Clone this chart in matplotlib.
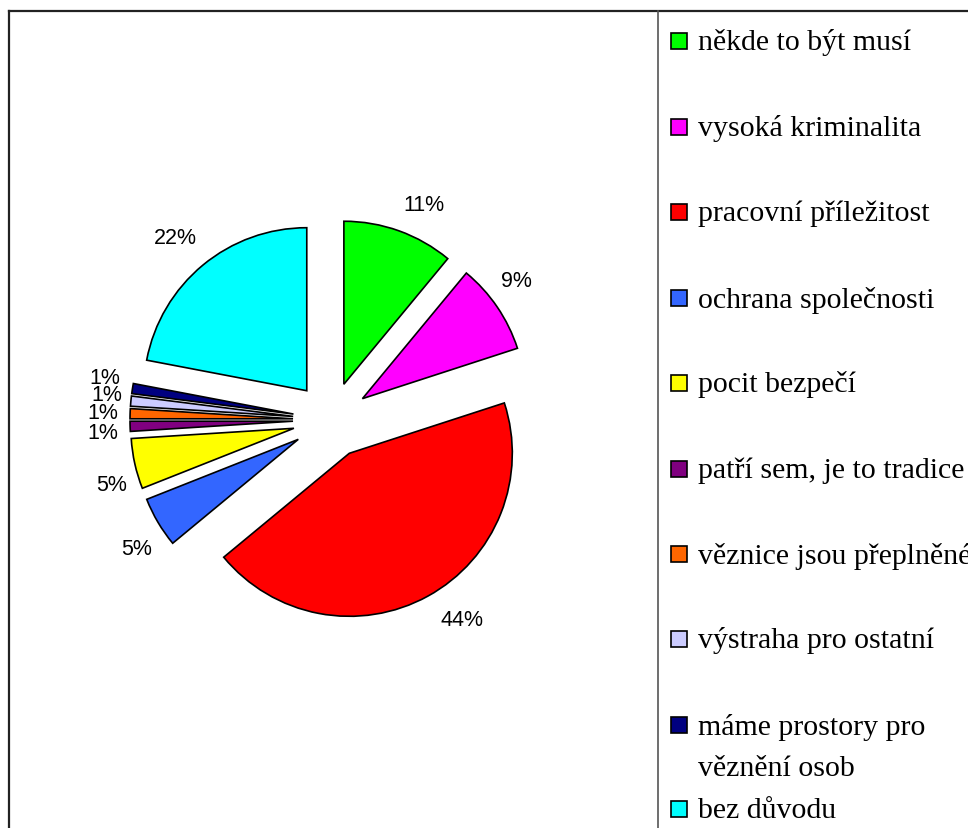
import matplotlib
matplotlib.use("Agg")
import matplotlib.pyplot as plt
from matplotlib.patches import Rectangle
from matplotlib.lines import Line2D

categories = ["někde to být musí", "vysoká kriminalita", "pracovní příležitost",
              "ochrana společnosti", "pocit bezpečí", "patří sem, je to tradice",
              "věznice jsou přeplněné", "výstraha pro ostatní",
              "máme prostory pro\nvěznění osob", "bez důvodu"]
values = [11, 9, 44, 5, 5, 1, 1, 1, 1, 22]
colors = ["#00FF00", "#FF00FF", "#FF0000", "#3366FF", "#FFFF00", "#800080",
          "#FF6600", "#CCCCFF", "#000080", "#00FFFF"]

# small label nudges (pixels, x right / y down) to mimic the original placement
label_nudge = [(13, 6), (-9, -7), (18, -7), (8, 9), (10, 13),
               (7, 5), (7, 0), (10, -3), (6, -6), (-5, -1)]

W, H = 968, 829
fig = plt.figure(figsize=(W / 100, H / 100), dpi=100)
ax = fig.add_axes([0, 0, 1, 1])

R = 163
explode = [38] * len(values)  # data units (pixels)
wedges, texts, autotexts = ax.pie(
    values, colors=colors, explode=explode, startangle=90, counterclock=False,
    center=(331, H - 421), radius=R, autopct="%1.0f%%", pctdistance=1.212,
    wedgeprops=dict(edgecolor="black", linewidth=1.2),
    textprops=dict(fontsize=15.5, family="Liberation Sans", color="black"))
for t, (dx, dy) in zip(autotexts, label_nudge):
    x, y = t.get_position()
    t.set_position((x + dx, y - dy))
ax.set_xlim(0, W)
ax.set_ylim(0, H)
ax.set_aspect("auto")
ax.axis("off")

# frame lines
fig.add_artist(Line2D([8.5 / W, 1], [1 - 11.5 / H, 1 - 11.5 / H], color="#222222", lw=1.6))
fig.add_artist(Line2D([8.5 / W, 8.5 / W], [0, 1 - 11.5 / H], color="#222222", lw=1.6))
fig.add_artist(Line2D([658 / W, 658 / W], [0, 1 - 11.5 / H], color="#555555", lw=1.2))

# legend
ys = [42, 128, 213, 299, 384, 470, 555, 640, 726, 810]
for lab, col, y in zip(categories, colors, ys):
    fig.add_artist(Rectangle((671 / W, 1 - (y + 8) / H), 16 / W, 16 / H,
                             facecolor=col, edgecolor="black", lw=1.2,
                             transform=fig.transFigure))
    ty = y + 1 if "\n" not in lab else y + 22
    fig.text(698 / W, 1 - ty / H, lab, fontsize=21.5, family="Liberation Serif",
             va="center", ha="left", linespacing=1.75)

fig.savefig("out.png", dpi=100)
